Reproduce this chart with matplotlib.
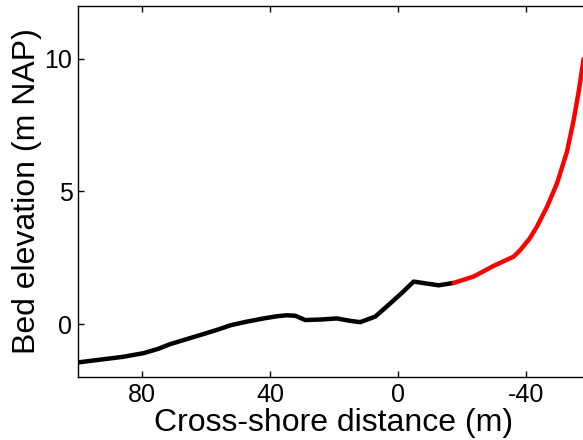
import matplotlib
matplotlib.use("Agg")
import matplotlib.pyplot as plt

plt.rcParams['font.family'] = ['Liberation Sans', 'DejaVu Sans']
plt.rcParams['axes.unicode_minus'] = False

# bed profile (cross-shore distance in m, elevation in m NAP)
x_black = [100, 92, 86, 79.5, 75, 71.2, 66, 60.8, 56, 52.4, 47.2, 42, 38,
           34.7, 32.1, 29, 24, 19.1, 15, 11.8, 7.1, 2.4, -1, -4.9, -12.7, -17.4]
y_black = [-1.45, -1.33, -1.24, -1.1, -0.94, -0.76, -0.57, -0.38, -0.2, -0.05,
           0.09, 0.21, 0.29, 0.33, 0.31, 0.15, 0.17, 0.21, 0.12, 0.07, 0.28,
           0.78, 1.15, 1.6, 1.46, 1.55]

x_red = [-17.4, -23.6, -30, -36.1, -38.2, -41, -43.4, -46.6, -49.7, -52.8,
         -54.9, -56.5, -58]
y_red = [1.55, 1.79, 2.2, 2.54, 2.79, 3.2, 3.67, 4.43, 5.31, 6.5,
         7.7, 8.8, 10.0]

xticks = [80, 40, 0, -40]
yticks = [0, 5, 10]

fig = plt.figure(figsize=(5.83, 4.4), dpi=100)
ax = fig.add_axes([78 / 583, 1 - 377 / 440, (590 - 78) / 583, (377 - 6) / 440])

ax.plot(x_black, y_black, color='black', lw=3.2, solid_capstyle='round')
ax.plot(x_red, y_red, color='red', lw=3.2, solid_capstyle='round')

ax.set_xlim(100, -60)
ax.set_ylim(-2, 12)
ax.set_xticks(xticks)
ax.set_yticks(yticks)
ax.tick_params(direction='in', length=4, width=1, top=True, right=True,
               labelsize=18, pad=4)
for s in ax.spines.values():
    s.set_linewidth(1)

ax.set_xlabel('Cross-shore distance (m)', fontsize=23, labelpad=1)
ax.set_ylabel('Bed elevation (m NAP)', fontsize=23, labelpad=2)

fig.savefig('out.png', dpi=100)
